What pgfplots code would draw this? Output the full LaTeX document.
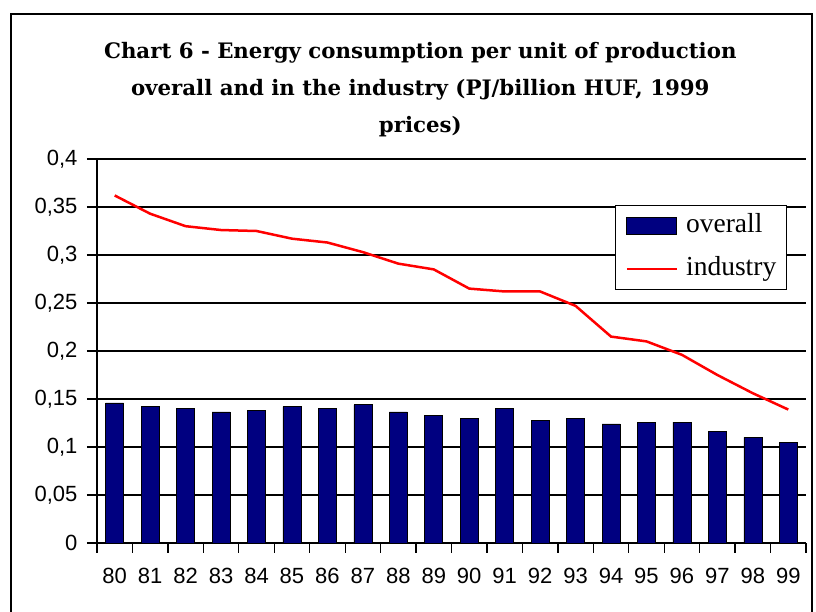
\documentclass[border=0pt]{standalone}
\usepackage{pgfplots}
\pgfplotsset{compat=1.18}
\usepackage{fontspec}
\setmainfont{Liberation Serif}
\newfontfamily\ticksf{Liberation Sans}
\newfontfamily\titlef{DejaVu Serif}
\definecolor{barnavy}{RGB}{0,0,128}

\begin{document}
\begin{tikzpicture}
\begin{axis}[
  at={(0pt,0pt)}, anchor=south west,
  scale only axis, width=709pt, height=384pt,
  xmin=-0.5, xmax=19.5, ymin=0, ymax=0.4,
  axis lines*=left,
  axis line style={line width=1.3pt, -},
  ytick={0,0.05,0.1,0.15,0.2,0.25,0.3,0.35,0.4},
  ymajorgrids, grid style={black, line width=1.2pt},
  tick align=outside, major tick length=10pt,
  tick style={black, line width=1.3pt},
  ticklabel style={font=\ticksf\fontsize{22}{22}\selectfont},
  yticklabel style={xshift=-6pt, /pgf/number format/.cd, use comma, fixed, precision=2, assume math mode=true},
  xtick={-0.5,0.5,...,19.5}, xticklabels={},
  extra x ticks={0,1,...,19},
  extra x tick labels={80,81,82,83,84,85,86,87,88,89,90,91,92,93,94,95,96,97,98,99},
  extra x tick style={major tick length=0pt, xticklabel style={yshift=-22pt}},
  title={Chart 6 - Energy consumption per unit of production\\overall and in the industry (PJ/billion HUF, 1999\\prices)},
  title style={at={(axis description cs:0.456,1.164)}, anchor=center, align=center,
    font=\titlef\bfseries\fontsize{21.3}{37}\selectfont},
  legend style={at={(axis description cs:0.973,0.881)}, anchor=north east,
    draw=black, line width=1.2pt, fill=white,
    font=\fontsize{27.5}{27.5}\selectfont,
    inner xsep=10pt, inner ysep=8pt, row sep=18pt, column sep=8pt,
    nodes={inner sep=0pt, text height=19pt, text depth=6pt}},
  legend cell align=left,
]
\addplot[ybar, bar width=18pt, fill=barnavy, draw=black, line width=0.6pt,
  legend image code/.code={\draw[fill=barnavy, draw=black, line width=0.8pt] (0pt,-8.5pt) rectangle (50pt,8.5pt);}]
  coordinates {
  (0,0.146)(1,0.142)(2,0.140)(3,0.1365)(4,0.138)(5,0.142)(6,0.140)(7,0.144)
  (8,0.1365)(9,0.1325)(10,0.130)(11,0.140)(12,0.128)(13,0.130)(14,0.124)
  (15,0.126)(16,0.126)(17,0.116)(18,0.110)(19,0.1045)
};
\addlegendentry{overall}
\addplot[red, line width=2.5pt, sharp plot, no markers,
  legend image code/.code={\draw[red, line width=2.5pt] (0pt,0pt) -- (50pt,0pt);}]
  coordinates {
  (0,0.362)(1,0.343)(2,0.330)(3,0.326)(4,0.325)(5,0.317)(6,0.313)(7,0.303)
  (8,0.291)(9,0.285)(10,0.265)(11,0.262)(12,0.262)(13,0.247)(14,0.215)
  (15,0.210)(16,0.196)(17,0.175)(18,0.156)(19,0.139)
};
\addlegendentry{industry}
\end{axis}
\draw[line width=2pt] (-86pt,-90pt) rectangle (715pt,529pt);
\pgfresetboundingbox
\path[use as bounding box] (-97pt,-69pt) rectangle (719pt,543pt);
\end{tikzpicture}
\end{document}
